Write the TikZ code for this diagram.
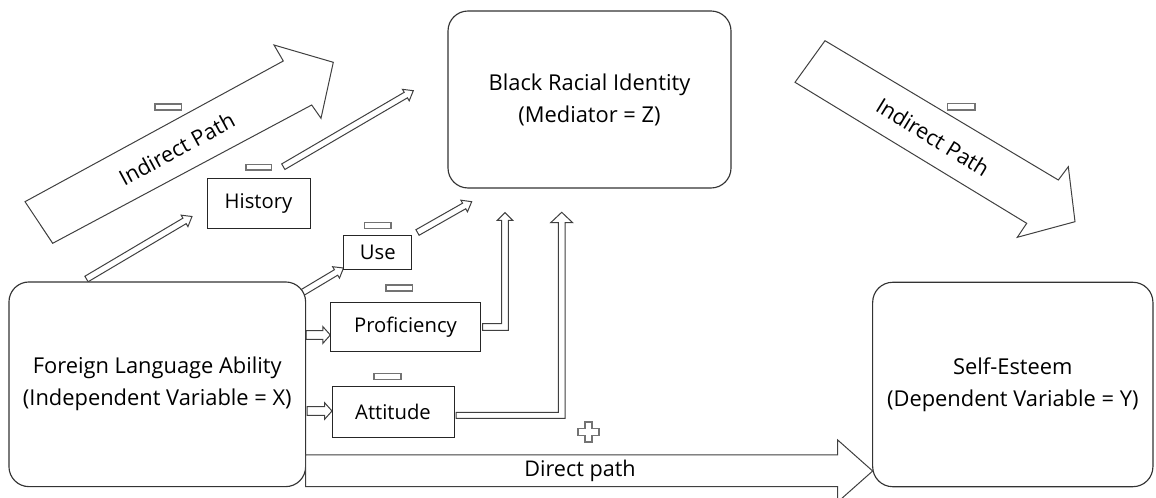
\documentclass[tikz,border=0pt]{standalone}
\usepackage{fontspec}
\setmainfont{Open Sans}
\usetikzlibrary{calc}

\tikzset{
  bigbox/.style={draw=black!80, line width=0.85pt, rounded corners=15pt, fill=white,
    inner sep=0pt, outer sep=0pt, align=center, font=\fontsize{16.4}{24}\selectfont},
  smallbox/.style={draw=black!85, line width=0.75pt, fill=white,
    inner sep=0pt, outer sep=0pt, font=\fontsize{15.2}{18}\selectfont},
  arrowline/.style={draw=black!75, line width=0.75pt, fill=white, line join=miter},
  pathlabel/.style={font=\fontsize{16.2}{18}\selectfont, inner sep=0pt},
  minus/.style={draw=black!55, line width=0.9pt, fill=white},
}

% hollow block arrow: tail, tip, shaft half width, head half width, head length
\newcommand\blockarrow[5]{%
  \coordinate (hb) at ($(#2)!#5!(#1)$);
  \draw[arrowline] ($(#1)!#3!90:(#2)$) -- ($(hb)!#3!90:(#2)$) -- ($(hb)!#4!90:(#2)$) -- (#2)
    -- ($(hb)!#4!-90:(#2)$) -- ($(hb)!#3!-90:(#2)$) -- ($(#1)!#3!-90:(#2)$) -- cycle;
}

\begin{document}
\begin{tikzpicture}[x=0.75pt,y=-0.75pt]
\useasboundingbox (0,0) rectangle (1156,498);
\clip (0,0) rectangle (1156,498);

% wide arrows of the indirect paths
\draw[arrowline] (52.7,243.3) -- (311.7,105) -- (321,118.3) -- (333.3,62.3)
  -- (274,45) -- (283.3,61) -- (25,201.7) -- cycle;
\node[pathlabel, rotate=28.5] (ipl) at (176.7,149) {Indirect Path};

\draw[arrowline] (825,40.7) -- (1058.3,180) -- (1068.3,166.7) -- (1075,221.7)
  -- (1017.3,237.3) -- (1026.7,223.3) -- (795,82.3) -- cycle;
\node[pathlabel, rotate=-31.5] (ipr) at (933,137) {Indirect Path};

% ends of the small arrows
\coordinate (fh0) at (86.5,279);   \coordinate (fh1) at (192,216.5);
\coordinate (hb0) at (283.3,166.7); \coordinate (hb1) at (413.3,90.7);
\coordinate (fu0) at (300,294);    \coordinate (fu1) at (343.5,268);
\coordinate (ub0) at (417.5,232.5); \coordinate (ub1) at (471.7,201.7);
\coordinate (fp0) at (306,335);    \coordinate (fp1) at (330.3,335);
\coordinate (fa0) at (307,411);    \coordinate (fa1) at (332,411);

\blockarrow{fh0}{fh1}{2.4pt}{5pt}{6.5pt}
\blockarrow{hb0}{hb1}{2.4pt}{5pt}{6.5pt}
\blockarrow{fu0}{fu1}{2.4pt}{5pt}{6.5pt}
\blockarrow{ub0}{ub1}{2.4pt}{5pt}{6.5pt}
\blockarrow{fp0}{fp1}{3.2pt}{6.2pt}{5.5pt}
\blockarrow{fa0}{fa1}{3.2pt}{6.2pt}{5.5pt}

% main variables
\node[bigbox, minimum width=222.5pt, minimum height=153.5pt] (fla) at (157.3,384.3)
  {Foreign Language Ability\\(Independent Variable = X)};
\node[bigbox, minimum width=212.25pt, minimum height=132.75pt] (bri) at (589.5,99.5)
  {Black Racial Identity\\(Mediator = Z)};
\node[bigbox, minimum width=210.2pt, minimum height=153.3pt] (se) at (1012.8,384.5)
  {Self-Esteem\\(Dependent Variable = Y)};

% components of foreign language ability
\node[smallbox, minimum width=77.25pt, minimum height=37.5pt] (hist) at (258.5,204) {History};
\node[smallbox, minimum width=50.8pt, minimum height=25.2pt] (use) at (377.8,252.5) {Use};
\node[smallbox, minimum width=112.8pt, minimum height=37pt] (prof) at (405.5,327) {Proficiency};
\node[smallbox, minimum width=91.5pt, minimum height=38pt] (att) at (393,412.3) {Attitude};

% elbow arrows into the mediator
\path (prof.east) ++(2,0) coordinate (pe);
\draw[arrowline] ($(pe)+(0,-3.4)$) -- ++(19,0) -- ++(0,-103.3) -- ++(-4.4,0)
  -- ++(7.7,-7.7) -- ++(7.7,7.7) -- ++(-4.4,0) -- ++(0,110) -- ++(-25.6,0) -- cycle;
\path (att.east) ++(2,0) coordinate (ae);
\draw[arrowline] (ae) -- ++(102.3,0) -- ++(0,-189.6) -- ++(-7.6,0)
  -- ++(11,-10.4) -- ++(11,10.4) -- ++(-7.7,0) -- ++(0,195.6) -- ++(-109,0) -- cycle;

% direct path
\draw[arrowline] (fla.east |- 0,455) -- (837.7,455) -- (837.7,440) -- (se.west |- 0,471)
  -- (837.7,502) -- (837.7,486.5) -- (fla.east |- 0,486.5) -- cycle;
\node[pathlabel] (dpl) at (580,471) {Direct path};

% signs of the effects
\draw[minus] (155,104) rectangle (181.7,110);
\draw[minus] (246,164.3) rectangle (271.7,170);
\draw[minus] (364.3,222.5) rectangle (391,228.3);
\draw[minus] (386,285) rectangle (412.7,291);
\draw[minus] (374,373.7) rectangle (401,379.3);
\draw[minus] (947.3,103.7) rectangle (975,110);
\draw[minus] (585,422) -- (592,422) -- (592,428.5) -- (599,428.5) -- (599,435.5) -- (592,435.5)
  -- (592,442) -- (585,442) -- (585,435.5) -- (578,435.5) -- (578,428.5) -- (585,428.5) -- cycle;
\end{tikzpicture}
\end{document}
